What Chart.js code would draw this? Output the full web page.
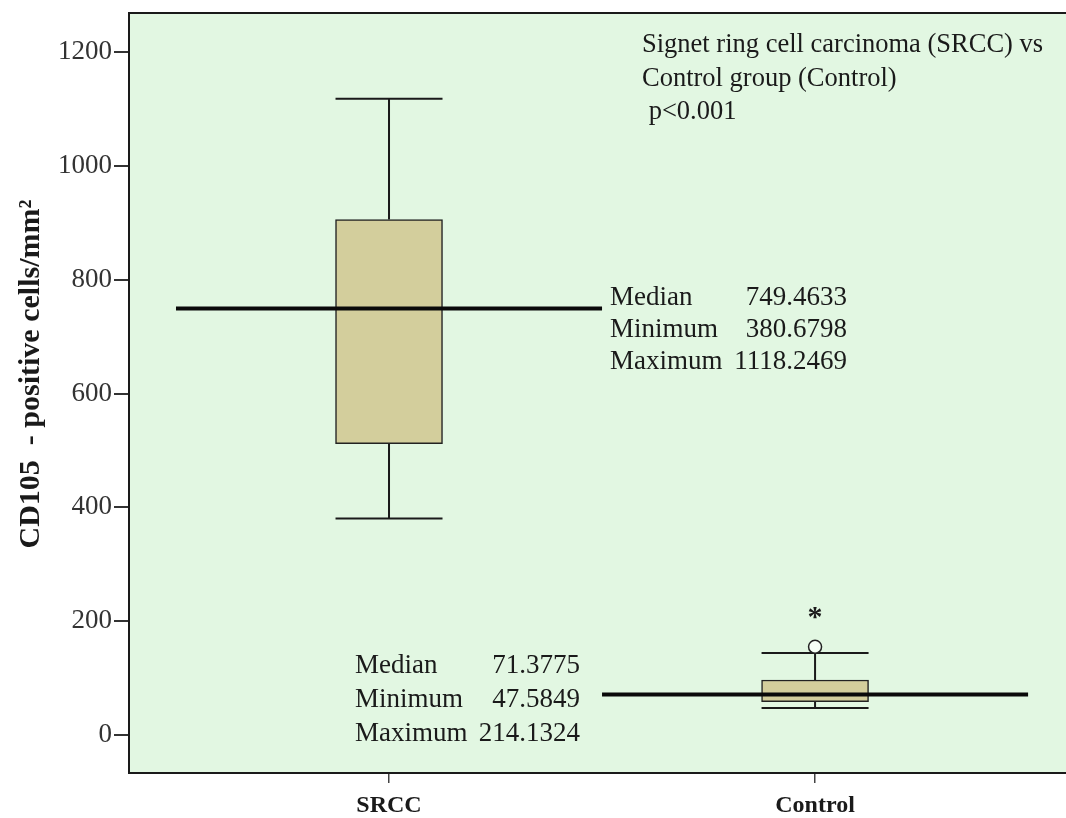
<!DOCTYPE html>
<html>
<head>
<meta charset="utf-8">
<title>CD105 boxplot</title>
<script src="https://cdn.jsdelivr.net/npm/chart.js@4/dist/chart.umd.min.js"></script>
<style>
  html, body { margin: 0; padding: 0; background: #fff; }
  #wrap { width: 1066px; height: 818px; }
</style>
</head>
<body>
<div id="wrap"><canvas id="boxChart" width="1066" height="818"></canvas></div>
<script>
// ================== DATA ==================
const groups = ["SRCC", "Control"];
const groupPos = [1, 2];
const whiskerLow = [380.68, 47.58];
const boxLow = [512, 58.5];
const medians = [749.46, 71.38];
const boxHigh = [906, 96.7];
const whiskerHigh = [1118.25, 144];
const outlierGroup = [2];
const outlierValue = [155];
const extremeGroup = [2];
const extremeValue = [214.13];
const yTicks = [0, 200, 400, 600, 800, 1000, 1200];

const statLabels = ["Median", "Minimum", "Maximum"];
const srccStats = ["749.4633", "380.6798", "1118.2469"];
const controlStats = ["71.3775", "47.5849", "214.1324"];
const noteLines = ["Signet ring cell carcinoma (SRCC) vs", "Control group (Control)", " p<0.001"];

// ================== STYLE ==================
const SERIF = "'Liberation Serif', 'Times New Roman', serif";
const INK = "#1a1a1a";
const PLOT_BG = "#e2f7e2";
const BOX_FILL = "#d3ce9c";
const BOX_W = 107;

// ================== PLUGINS ==================
const plotBackground = {
  id: "plotBackground",
  beforeDraw(chart) {
    const { ctx, chartArea: a } = chart;
    ctx.save();
    ctx.fillStyle = PLOT_BG;
    ctx.fillRect(a.left, a.top, a.right - a.left, a.bottom - a.top);
    ctx.restore();
  },
  afterDraw(chart) {
    const { ctx, chartArea: a } = chart;
    ctx.save();
    ctx.strokeStyle = INK;
    ctx.lineWidth = 2;
    ctx.beginPath();
    ctx.moveTo(a.left, a.top);
    ctx.lineTo(a.right, a.top);
    ctx.stroke();
    ctx.restore();
  }
};

const whiskers = {
  id: "whiskers",
  beforeDatasetsDraw(chart) {
    const { ctx } = chart;
    const xs = chart.scales.x, ys = chart.scales.y;
    ctx.save();
    ctx.strokeStyle = INK;
    ctx.lineWidth = 2;
    groupPos.forEach((p, i) => {
      const x = xs.getPixelForValue(p);
      const segs = [[boxHigh[i], whiskerHigh[i]], [boxLow[i], whiskerLow[i]]];
      segs.forEach(([from, to]) => {
        const y0 = ys.getPixelForValue(from), y1 = ys.getPixelForValue(to);
        ctx.beginPath();
        ctx.moveTo(x, y0);
        ctx.lineTo(x, y1);
        ctx.moveTo(x - BOX_W / 2, y1);
        ctx.lineTo(x + BOX_W / 2, y1);
        ctx.stroke();
      });
    });
    ctx.restore();
  }
};

const annotations = {
  id: "annotations",
  afterDraw(chart) {
    const { ctx } = chart;
    const xs = chart.scales.x, ys = chart.scales.y;
    ctx.save();
    ctx.fillStyle = INK;
    ctx.textBaseline = "middle";

    // y axis title
    ctx.save();
    ctx.translate(31, 374);
    ctx.rotate(-Math.PI / 2);
    ctx.textAlign = "center";
    ctx.font = "bold 30px " + SERIF;
    ctx.fillText("CD105  - positive cells/mm\u00b2", 0, 0);
    ctx.restore();

    // note top right
    ctx.font = "26.5px " + SERIF;
    ctx.textAlign = "left";
    [45, 79, 112].forEach((y, i) => ctx.fillText(noteLines[i], 642, y));

    // stats blocks
    ctx.font = "27px " + SERIF;
    statLabels.forEach((lab, i) => {
      const y1 = 298 + i * 32;
      ctx.textAlign = "left";
      ctx.fillText(lab, 610, y1);
      ctx.textAlign = "right";
      ctx.fillText(srccStats[i], 847, y1);

      const y2 = 666 + i * 34;
      ctx.textAlign = "left";
      ctx.fillText(lab, 355, y2);
      ctx.textAlign = "right";
      ctx.fillText(controlStats[i], 580, y2);
    });

    // extreme outlier marker
    ctx.font = "bold 30px " + SERIF;
    ctx.textAlign = "center";
    ctx.textBaseline = "alphabetic";
    const m = ctx.measureText("*");
    extremeGroup.forEach((g, i) => {
      const x = xs.getPixelForValue(g);
      const y = ys.getPixelForValue(extremeValue[i]);
      ctx.fillText("*", x, y + (m.actualBoundingBoxAscent - m.actualBoundingBoxDescent) / 2);
    });
    ctx.restore();
  }
};

// ================== DATASETS ==================
const medianSets = groupPos.map((p, i) => ({
  type: "line",
  data: [{ x: p - 0.5, y: medians[i] }, { x: p + 0.5, y: medians[i] }],
  borderColor: "#0a0a0a",
  borderWidth: 4,
  pointRadius: 0,
  order: 0
}));

const boxSet = {
  type: "bar",
  data: groupPos.map((p, i) => ({ x: p, y: [boxLow[i], boxHigh[i]] })),
  backgroundColor: BOX_FILL,
  borderColor: "#222",
  borderWidth: 1.5,
  borderSkipped: false,
  barThickness: BOX_W,
  order: 2
};

const outlierSet = {
  type: "scatter",
  data: outlierGroup.map((g, i) => ({ x: g, y: outlierValue[i] })),
  pointStyle: "circle",
  pointRadius: 6.5,
  backgroundColor: "#f6fff6",
  borderColor: "#222",
  borderWidth: 1.5,
  order: 1
};

// ================== CHART ==================
new Chart(document.getElementById("boxChart"), {
  type: "bar",
  data: { datasets: [...medianSets, outlierSet, boxSet] },
  options: {
    responsive: false,
    animation: false,
    devicePixelRatio: 1,
    layout: { autoPadding: false, padding: { top: 13, right: 0, left: 0, bottom: 0 } },
    plugins: { legend: { display: false }, tooltip: { enabled: false } },
    scales: {
      x: {
        type: "linear",
        offset: false,
        min: 0.3897,
        max: 2.589,
        afterBuildTicks: (s) => { s.ticks = groupPos.map((v) => ({ value: v })); },
        afterFit: (s) => { s.height = 45; s.paddingLeft = 0; s.paddingRight = 0; },
        ticks: {
          callback: (v) => groups[groupPos.indexOf(v)] || "",
          font: { family: SERIF, size: 24, weight: "bold" },
          color: INK,
          padding: 8,
          maxRotation: 0
        },
        grid: { offset: false, drawOnChartArea: false, tickLength: 10, color: "#444", lineWidth: 1.5 },
        border: { display: true, color: INK, width: 2 }
      },
      y: {
        type: "linear",
        min: -66.8,
        max: 1268.9,
        afterBuildTicks: (s) => { s.ticks = yTicks.map((v) => ({ value: v })); },
        afterFit: (s) => { s.width = 129; s.paddingTop = 0; s.paddingBottom = 0; },
        ticks: {
          callback: (v) => String(v),
          font: { family: SERIF, size: 27 },
          color: "#333",
          padding: 2
        },
        grid: { drawOnChartArea: false, tickLength: 15, color: "#333", lineWidth: 2 },
        border: { display: true, color: INK, width: 2 }
      }
    }
  },
  plugins: [plotBackground, whiskers, annotations]
});
</script>
</body>
</html>
